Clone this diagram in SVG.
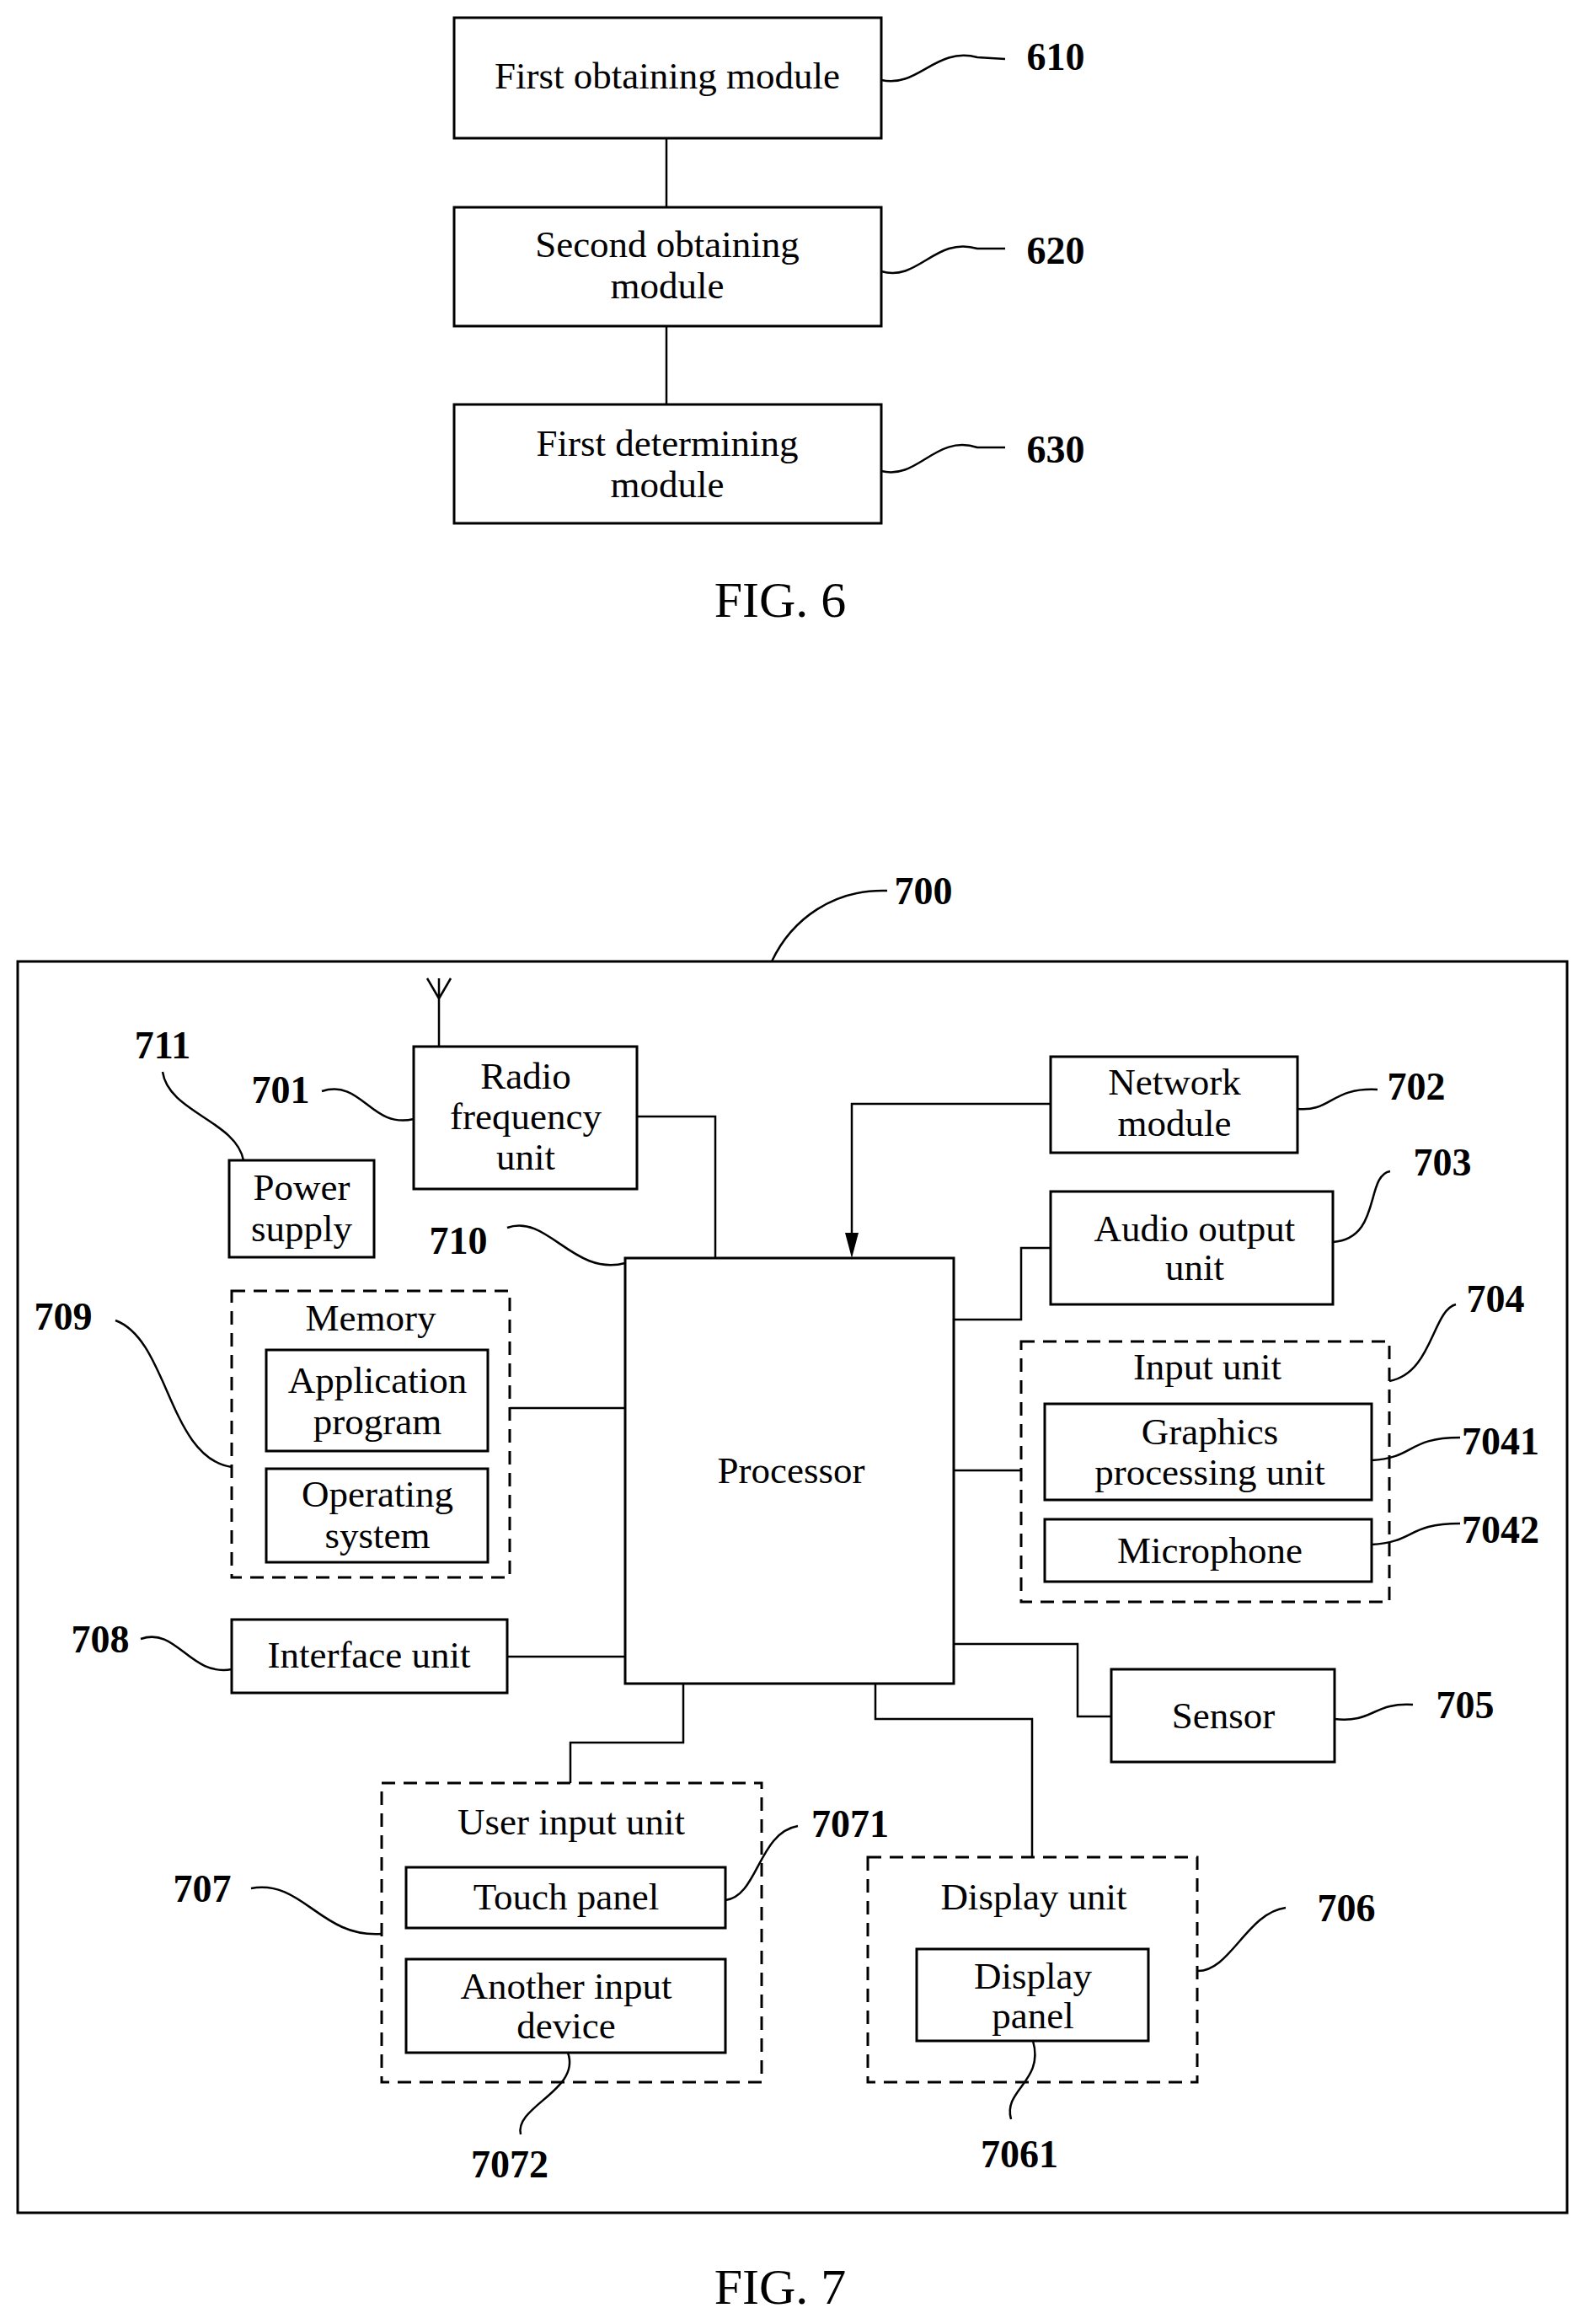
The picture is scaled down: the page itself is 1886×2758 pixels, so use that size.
<svg xmlns="http://www.w3.org/2000/svg" width="1886" height="2758" viewBox="0 0 1886 2758">
<style>
.b{fill:#fff;stroke:#000;stroke-width:3}
.d{fill:none;stroke:#000;stroke-width:3;stroke-dasharray:16 10}
.l{fill:none;stroke:#000;stroke-width:2.5}
.t{font-family:"Liberation Serif",serif;font-size:45px;text-anchor:middle;dominant-baseline:central}
.n{font-family:"Liberation Serif",serif;font-size:46px;font-weight:bold;text-anchor:middle;dominant-baseline:central}
.f{font-family:"Liberation Serif",serif;font-size:60px;text-anchor:middle;dominant-baseline:central}
</style>
<rect width="1886" height="2758" fill="#fff"/>
<g id="connectors">
<line class="l" x1="791" y1="164" x2="791" y2="246"/>
<line class="l" x1="791" y1="387" x2="791" y2="480"/>
<path class="l" d="M1046,95 C1090,105 1110,55 1160,68 L1193,70"/>
<path class="l" d="M1046,322 C1090,335 1110,280 1160,295 L1193,295"/>
<path class="l" d="M1046,559 C1090,570 1110,515 1160,531 L1193,531"/>
<path class="l" d="M916,1141 C940,1090 990,1055 1053,1057"/>
<path class="l" d="M521,1242 L521,1161 M521,1185 L507,1161 M521,1185 L535,1161"/>
<path class="l" d="M756,1325 L849,1325 L849,1493"/>
<path class="l" d="M382,1295 C430,1280 440,1340 491,1328"/>
<path class="l" d="M193,1272 C200,1320 280,1330 289,1377"/>
<path class="l" d="M602,1457 C650,1440 680,1515 742,1499"/>
<path class="l" d="M1247,1310 L1011,1310 L1011,1470"/>
<polygon points="1003,1463 1019,1463 1011,1493" fill="#000"/>
<path class="l" d="M1540,1316 C1580,1320 1580,1290 1635,1293"/>
<path class="l" d="M1132,1566 L1212,1566 L1212,1481 L1247,1481"/>
<path class="l" d="M1582,1474 C1640,1470 1620,1395 1650,1390"/>
<path class="l" d="M1132,1745 L1212,1745"/>
<path class="l" d="M1649,1639 C1700,1630 1700,1555 1728,1548"/>
<path class="l" d="M1628,1733 C1680,1730 1670,1706 1733,1706"/>
<path class="l" d="M1628,1833 C1680,1830 1670,1808 1733,1808"/>
<path class="l" d="M605,1671 L742,1671"/>
<path class="l" d="M137,1567 C200,1590 200,1730 275,1741"/>
<path class="l" d="M602,1966 L742,1966"/>
<path class="l" d="M167,1945 C210,1930 225,1990 275,1981"/>
<path class="l" d="M1132,1951 L1279,1951 L1279,2037 L1319,2037"/>
<path class="l" d="M1584,2040 C1630,2045 1630,2020 1677,2023"/>
<path class="l" d="M811,1998 L811,2068 L677,2068 L677,2116"/>
<path class="l" d="M298,2241 C360,2230 380,2300 453,2295"/>
<path class="l" d="M861,2255 C900,2250 900,2175 947,2167"/>
<path class="l" d="M674,2436 C690,2480 610,2500 618,2533"/>
<path class="l" d="M1039,1998 L1039,2040 L1225,2040 L1225,2204"/>
<path class="l" d="M1421,2339 C1460,2340 1480,2270 1526,2264"/>
<path class="l" d="M1226,2422 C1240,2470 1190,2480 1200,2515"/>
</g>
<g id="n610"><rect class="b" x="539" y="21" width="507" height="143"/><text class="t" x="792" y="90">First obtaining module</text><text class="n" x="1253" y="67">610</text></g>
<g id="n620"><rect class="b" x="539" y="246" width="507" height="141"/><text class="t" x="792" y="290">Second obtaining</text><text class="t" x="792" y="339">module</text><text class="n" x="1253" y="297">620</text></g>
<g id="n630"><rect class="b" x="539" y="480" width="507" height="141"/><text class="t" x="792" y="526">First determining</text><text class="t" x="792" y="575">module</text><text class="n" x="1253" y="533">630</text></g>
<text class="f" x="926" y="712">FIG. 6</text>
<g id="n700"><rect x="21" y="1141" width="1839" height="1485" fill="none" stroke="#000" stroke-width="3"/><text class="n" x="1096" y="1057">700</text></g>
<g id="n701"><rect class="b" x="491" y="1242" width="265" height="169"/><text class="t" x="624" y="1277">Radio</text><text class="t" x="624" y="1325">frequency</text><text class="t" x="624" y="1373">unit</text><text class="n" x="333" y="1293">701</text></g>
<g id="n711"><rect class="b" x="272" y="1377" width="172" height="115"/><text class="t" x="358" y="1409">Power</text><text class="t" x="358" y="1458">supply</text><text class="n" x="193" y="1240">711</text></g>
<g id="n710"><rect class="b" x="742" y="1493" width="390" height="505"/><text class="t" x="939" y="1745">Processor</text><text class="n" x="544" y="1472">710</text></g>
<g id="n702"><rect class="b" x="1247" y="1254" width="293" height="114"/><text class="t" x="1394" y="1284">Network</text><text class="t" x="1394" y="1333">module</text><text class="n" x="1681" y="1289">702</text></g>
<g id="n703"><rect class="b" x="1247" y="1414" width="335" height="134"/><text class="t" x="1418" y="1458">Audio output</text><text class="t" x="1418" y="1504">unit</text><text class="n" x="1712" y="1379">703</text></g>
<g id="n704"><rect class="d" x="1212" y="1592" width="437" height="309"/><text class="t" x="1433" y="1622">Input unit</text><text class="n" x="1775" y="1541">704</text></g>
<g id="n7041"><rect class="b" x="1240" y="1666" width="388" height="114"/><text class="t" x="1436" y="1699">Graphics</text><text class="t" x="1436" y="1747">processing unit</text><text class="n" x="1781" y="1710">7041</text></g>
<g id="n7042"><rect class="b" x="1240" y="1803" width="388" height="74"/><text class="t" x="1436" y="1840">Microphone</text><text class="n" x="1781" y="1815">7042</text></g>
<g id="n709"><rect class="d" x="275" y="1532" width="330" height="340"/><text class="t" x="440" y="1564">Memory</text><text class="n" x="75" y="1562">709</text></g>
<g id="n_app"><rect class="b" x="316" y="1602" width="263" height="120"/><text class="t" x="448" y="1638">Application</text><text class="t" x="448" y="1687">program</text></g>
<g id="n_os"><rect class="b" x="316" y="1743" width="263" height="111"/><text class="t" x="448" y="1773">Operating</text><text class="t" x="448" y="1822">system</text></g>
<g id="n708"><rect class="b" x="275" y="1922" width="327" height="87"/><text class="t" x="438" y="1964">Interface unit</text><text class="n" x="119" y="1945">708</text></g>
<g id="n705"><rect class="b" x="1319" y="1981" width="265" height="110"/><text class="t" x="1452" y="2036">Sensor</text><text class="n" x="1739" y="2023">705</text></g>
<g id="n707"><rect class="d" x="453" y="2116" width="451" height="355"/><text class="t" x="678" y="2162">User input unit</text><text class="n" x="240" y="2241">707</text></g>
<g id="n7071"><rect class="b" x="482" y="2216" width="379" height="72"/><text class="t" x="672" y="2251">Touch panel</text><text class="n" x="1009" y="2164">7071</text></g>
<g id="n7072"><rect class="b" x="482" y="2325" width="379" height="111"/><text class="t" x="672" y="2357">Another input</text><text class="t" x="672" y="2404">device</text><text class="n" x="605" y="2568">7072</text></g>
<g id="n706"><rect class="d" x="1030" y="2204" width="391" height="267"/><text class="t" x="1227" y="2251">Display unit</text><text class="n" x="1598" y="2264">706</text></g>
<g id="n7061"><rect class="b" x="1088" y="2313" width="275" height="109"/><text class="t" x="1226" y="2345">Display</text><text class="t" x="1226" y="2392">panel</text><text class="n" x="1210" y="2556">7061</text></g>
<text class="f" x="926" y="2714">FIG. 7</text>
</svg>
